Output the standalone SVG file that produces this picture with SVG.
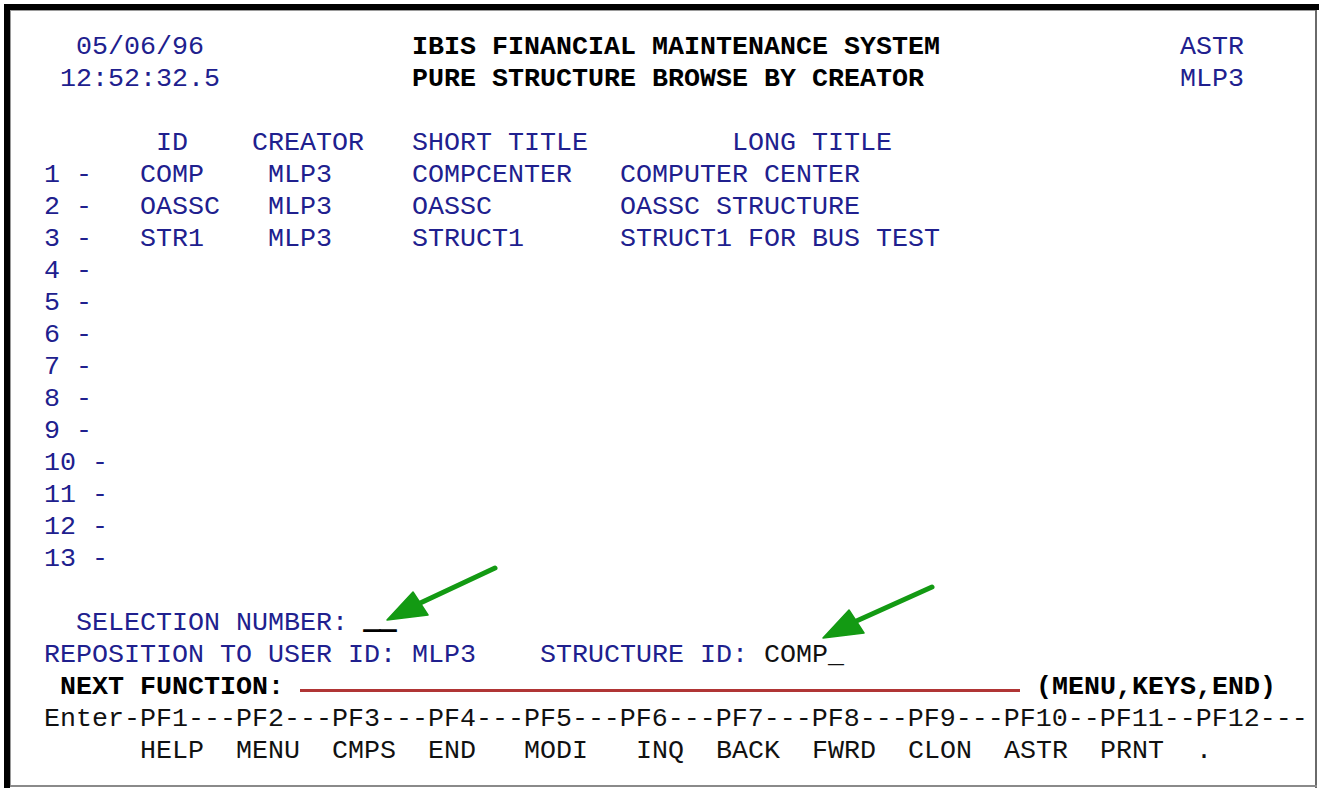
<svg xmlns="http://www.w3.org/2000/svg" width="1319" height="788" viewBox="0 0 1319 788">
<style>
  text { font-family: "Liberation Mono", "DejaVu Sans Mono", monospace; font-size: 26.67px; white-space: pre; }
  .b { fill: #20208e; }
  .k { fill: #111111; }
  .h { fill: #000000; font-weight: bold; }
  .cur { fill: #000000; stroke: #000000; stroke-width: 1.6; font-weight: bold; }
  .arrow-shaft { stroke: #139a13; stroke-width: 5; stroke-linecap: round; fill: none; }
  .arrow-head { fill: #139a13; stroke: #139a13; stroke-width: 1.5; stroke-linejoin: round; }
</style>
<rect x="0" y="0" width="1319" height="788" fill="#ffffff"/>
<g id="frame">
  <rect x="5" y="4" width="1314" height="6" fill="#000000"/>
  <rect x="4" y="4" width="6" height="784" fill="#000000"/>
  <rect x="10" y="10" width="1306" height="1" fill="#9a9a9a"/>
  <rect x="10" y="10" width="1" height="776" fill="#9a9a9a"/>
  <rect x="1315" y="10" width="2" height="778" fill="#6a6a6a"/>
  <rect x="10" y="785" width="1307" height="2" fill="#8a8a8a"/>
</g>
<g id="header">
  <text class="b" x="76" y="54">05/06/96</text>
  <text class="h" x="412" y="54">IBIS FINANCIAL MAINTENANCE SYSTEM</text>
  <text class="b" x="1180" y="54">ASTR</text>
  <text class="b" x="60" y="86">12:52:32.5</text>
  <text class="h" x="412" y="86">PURE STRUCTURE BROWSE BY CREATOR</text>
  <text class="b" x="1180" y="86">MLP3</text>
</g>
<g id="table">
  <text class="b" x="156" y="150">ID</text>
  <text class="b" x="252" y="150">CREATOR</text>
  <text class="b" x="412" y="150">SHORT TITLE</text>
  <text class="b" x="732" y="150">LONG TITLE</text>
  <text class="b" x="44" y="182">1 -</text>
  <text class="b" x="140" y="182">COMP</text>
  <text class="b" x="268" y="182">MLP3</text>
  <text class="b" x="412" y="182">COMPCENTER</text>
  <text class="b" x="620" y="182">COMPUTER CENTER</text>
  <text class="b" x="44" y="214">2 -</text>
  <text class="b" x="140" y="214">OASSC</text>
  <text class="b" x="268" y="214">MLP3</text>
  <text class="b" x="412" y="214">OASSC</text>
  <text class="b" x="620" y="214">OASSC STRUCTURE</text>
  <text class="b" x="44" y="246">3 -</text>
  <text class="b" x="140" y="246">STR1</text>
  <text class="b" x="268" y="246">MLP3</text>
  <text class="b" x="412" y="246">STRUCT1</text>
  <text class="b" x="620" y="246">STRUCT1 FOR BUS TEST</text>
  <text class="b" x="44" y="278">4 -</text>
  <text class="b" x="44" y="310">5 -</text>
  <text class="b" x="44" y="342">6 -</text>
  <text class="b" x="44" y="374">7 -</text>
  <text class="b" x="44" y="406">8 -</text>
  <text class="b" x="44" y="438">9 -</text>
  <text class="b" x="44" y="470">10 -</text>
  <text class="b" x="44" y="502">11 -</text>
  <text class="b" x="44" y="534">12 -</text>
  <text class="b" x="44" y="566">13 -</text>
</g>
<g id="fields">
  <text class="b" x="76" y="630">SELECTION NUMBER:</text>
  <text class="cur" x="364" y="628">__</text>
  <text class="b" x="44" y="662">REPOSITION TO USER ID: MLP3</text>
  <text class="b" x="540" y="662">STRUCTURE ID:</text>
  <text class="k" x="764" y="662">COMP_</text>
</g>
<g id="next-function">
  <text class="h" x="60" y="694">NEXT FUNCTION:</text>
  <rect x="300" y="689" width="720" height="3" fill="#b03535"/>
  <text class="h" x="1036" y="694">(MENU,KEYS,END)</text>
</g>
<g id="pf-keys">
  <text class="k" x="44" y="726">Enter-PF1---PF2---PF3---PF4---PF5---PF6---PF7---PF8---PF9---PF10--PF11--PF12---</text>
  <text class="k" x="140" y="758">HELP</text>
  <text class="k" x="236" y="758">MENU</text>
  <text class="k" x="332" y="758">CMPS</text>
  <text class="k" x="428" y="758">END</text>
  <text class="k" x="524" y="758">MODI</text>
  <text class="k" x="636" y="758">INQ</text>
  <text class="k" x="716" y="758">BACK</text>
  <text class="k" x="812" y="758">FWRD</text>
  <text class="k" x="908" y="758">CLON</text>
  <text class="k" x="1004" y="758">ASTR</text>
  <text class="k" x="1100" y="758">PRNT</text>
  <text class="k" x="1196" y="758">.</text>
</g>
<g id="arrows">
  <line class="arrow-shaft" x1="495" y1="568" x2="416" y2="605"/>
  <polygon class="arrow-head" points="387,620 413,592 428,615"/>
  <line class="arrow-shaft" x1="932" y1="587" x2="852" y2="623"/>
  <polygon class="arrow-head" points="823,638 849,610 864,633"/>
</g>
</svg>
